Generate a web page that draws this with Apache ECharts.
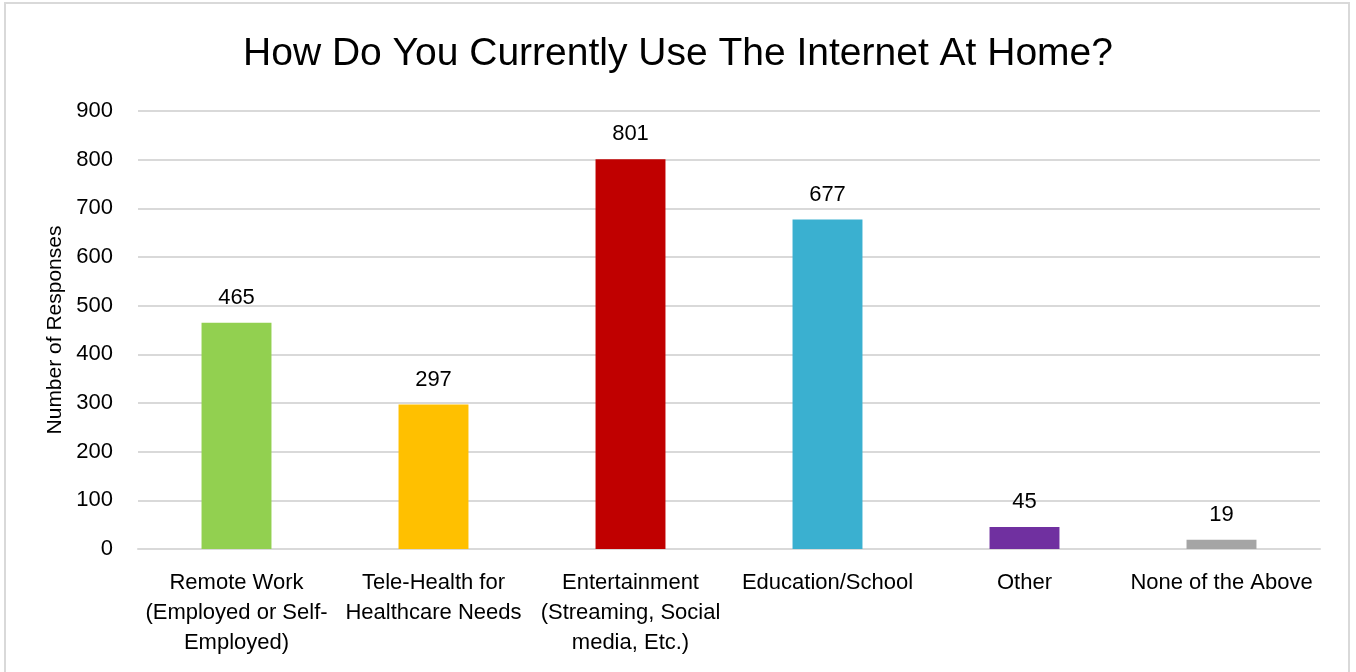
<!DOCTYPE html>
<html>
<head>
<meta charset="utf-8">
<script src="https://cdn.jsdelivr.net/npm/echarts@6/dist/echarts.min.js"></script>
<style>
  html, body { margin: 0; padding: 0; background: #fff; }
  #chart { width: 1356px; height: 672px; }
</style>
</head>
<body>
<div id="chart"></div>
<script>
const categories = [
  'Remote Work\n(Employed or Self-\nEmployed)',
  'Tele-Health for\nHealthcare Needs',
  'Entertainment\n(Streaming, Social\nmedia, Etc.)',
  'Education/School',
  'Other',
  'None of the Above'
];
const responses = [465, 297, 801, 677, 45, 19];
const barColors = ['#92D050', '#FFC000', '#C00000', '#3AB0D0', '#7030A0', '#A5A5A5'];

const font = '"Liberation Sans Narrow", "Arial Narrow", "Liberation Sans", Arial, sans-serif';

const chart = echarts.init(document.getElementById('chart'));

const options = {
  backgroundColor: '#fff',
  animation: false,
  title: {
    text: 'How Do You Currently Use The Internet At Home?',
    left: 'center',
    top: 30,
    textStyle: { fontFamily: font, fontSize: 39, fontWeight: 'normal', color: '#000' }
  },
  graphic: [{
    type: 'rect',
    shape: { x: 5, y: 3, width: 1344, height: 700 },
    style: { fill: 'none', stroke: '#d9d9d9', lineWidth: 2 },
    silent: true
  }],
  grid: { left: 138, right: 36, top: 111, bottom: 123 },
  xAxis: {
    type: 'category',
    data: categories,
    axisTick: { show: false },
    axisLine: { lineStyle: { color: '#d9d9d9', width: 2 } },
    axisLabel: {
      color: '#000', fontFamily: font, fontSize: 22, lineHeight: 30,
      margin: 19, interval: 0
    }
  },
  yAxis: {
    type: 'value',
    min: 0,
    max: 900,
    interval: 100,
    name: 'Number of Responses',
    nameLocation: 'middle',
    nameGap: 71,
    nameTextStyle: { fontFamily: font, fontSize: 21, color: '#000' },
    axisLabel: { color: '#000', fontFamily: font, fontSize: 22, margin: 25 },
    axisLine: { show: false },
    axisTick: { show: false },
    splitLine: { lineStyle: { color: '#d9d9d9', width: 2 } }
  },
  series: [{
    type: 'bar',
    data: responses.map((v, i) => ({ value: v, itemStyle: { color: barColors[i] } })),
    barWidth: '35.5%',
    label: {
      show: true,
      position: 'top',
      distance: 14,
      color: '#000',
      fontFamily: font,
      fontSize: 22
    }
  }]
};

chart.setOption(options);
</script>
</body>
</html>
